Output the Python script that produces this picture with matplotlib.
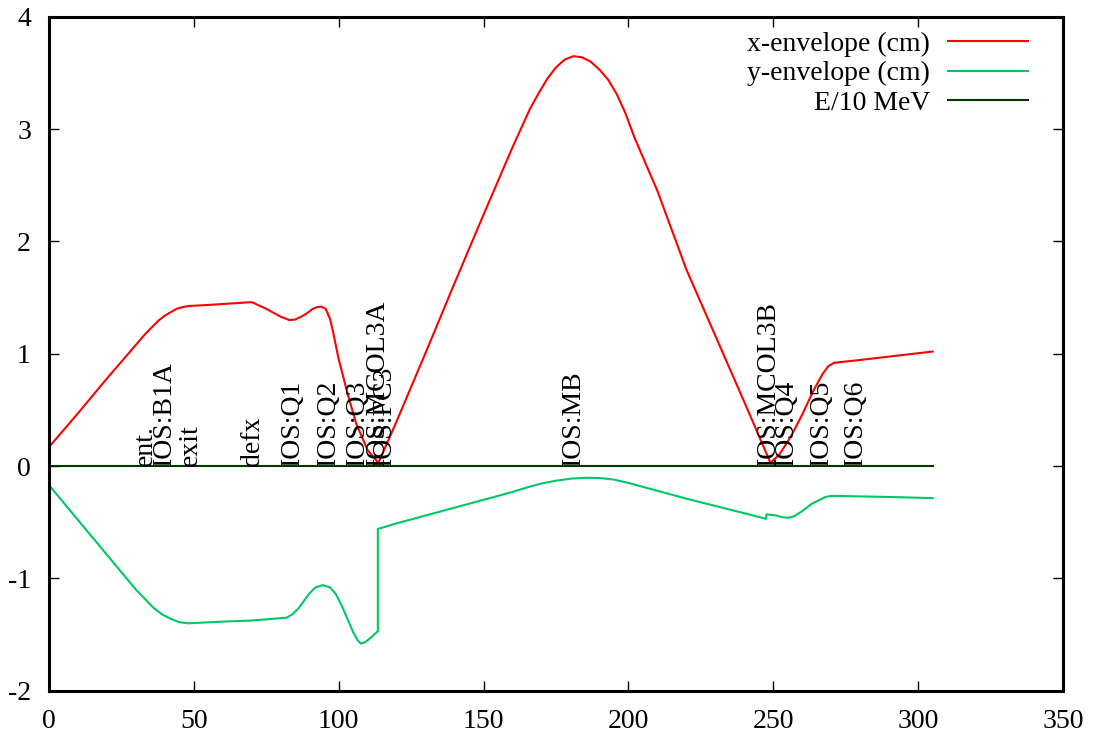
import matplotlib
matplotlib.use('Agg')
import matplotlib.pyplot as plt

plt.rcParams['font.family'] = ['Liberation Serif', 'DejaVu Serif']
plt.rcParams['font.size'] = 20
plt.rcParams['axes.unicode_minus'] = False

# x-envelope (cm)
xs_x = [0, 10, 20, 30, 33, 36, 38, 40, 42, 44, 46, 48, 55, 70, 75, 80, 83, 85, 87, 89, 91, 92.5, 94, 95.5, 97, 98,
        100, 103, 106, 110, 113.7, 120, 130, 140, 150, 160, 163, 166, 169, 172, 175, 178, 181, 184,
        187, 190, 193, 196, 199, 202, 210, 220, 230, 240, 249, 252, 256, 260, 264, 267, 269, 271, 280, 290, 305]
env_x = [0.17, 0.47, 0.78, 1.08, 1.17, 1.25, 1.30, 1.34, 1.37, 1.40, 1.415, 1.425, 1.435, 1.46, 1.40, 1.33, 1.30, 1.305, 1.33, 1.36, 1.40, 1.415, 1.42, 1.40, 1.31, 1.20,
         0.95, 0.65, 0.38, 0.14, 0.03, 0.40, 1.01, 1.63, 2.24, 2.84, 3.01, 3.18, 3.32, 3.45, 3.55, 3.62, 3.65, 3.64,
         3.60, 3.53, 3.44, 3.31, 3.14, 2.93, 2.45, 1.75, 1.16, 0.57, 0.03, 0.10, 0.26, 0.46, 0.68, 0.82, 0.89, 0.92, 0.945, 0.975, 1.02]

# y-envelope (cm)
xs_y = [0, 10, 20, 30, 33, 36, 39, 42, 45, 48, 60, 70, 82, 84, 86, 88, 90, 92, 94.5, 97, 99, 101, 103, 105, 106.5, 107.6, 109, 111,
        113.5, 113.5, 120, 140, 160, 165, 170, 175, 180, 185, 190, 195, 200, 220, 240, 247.5, 247.6, 251,
        253, 255, 257, 260, 263, 266, 268, 270, 280, 290, 305]
env_y = [-0.17, -0.48, -0.79, -1.10, -1.18, -1.26, -1.32, -1.36, -1.39, -1.40, -1.385, -1.375, -1.35, -1.32, -1.27, -1.20, -1.13, -1.08, -1.06, -1.08, -1.14, -1.24, -1.36, -1.48, -1.55, -1.58, -1.57, -1.53,
         -1.47, -0.56, -0.51, -0.37, -0.23, -0.19, -0.155, -0.13, -0.112, -0.104, -0.106, -0.12, -0.15, -0.29, -0.42, -0.47, -0.43, -0.44,
         -0.455, -0.46, -0.45, -0.40, -0.34, -0.30, -0.275, -0.265, -0.27, -0.275, -0.285]

# E/10 MeV
xs_e = [0, 305]
energy = [0, 0]

# element labels
elem_names = ['ent.', 'IOS:B1A', 'exit', 'defx', 'IOS:Q1', 'IOS:Q2', 'IOS:Q3', 'IOS:MCOL3A', 'IOS:FC3',
              'IOS:MB', 'IOS:MCOL3B', 'IOS:Q4', 'IOS:Q5', 'IOS:Q6']
elem_pos = [33.1, 40.0, 48.7, 70.1, 83.9, 96.3, 106.3, 113.4, 115.7,
            180.9, 248.2, 254.6, 266.7, 278.2]

fig = plt.figure(figsize=(10.94, 7.34), dpi=100)
ax = fig.add_axes([0.0448, 0.059, 0.9269, 0.918])

ax.plot(xs_x, env_x, color='#ff0000', lw=1.5, label='x-envelope (cm)')
ax.plot(xs_y, env_y, color='#00c864', lw=1.5, label='y-envelope (cm)')
ax.plot(xs_e, energy, color='#003800', lw=1.5, label='E/10 MeV')

for name, p in zip(elem_names, elem_pos):
    ax.text(p, 0, name, rotation=90, ha='center', va='bottom', fontsize=20)

ax.set_xlim(0, 350)
ax.set_ylim(-2, 4)
ax.set_xticks(range(0, 351, 50))
ax.set_yticks(range(-2, 5))
ax.tick_params(direction='in', length=7, width=1, top=True, right=True)
ax.tick_params(axis='x', pad=13)
ax.tick_params(axis='y', pad=13)
for s in ax.spines.values():
    s.set_linewidth(2.2)

leg = ax.legend(loc='upper right', frameon=False, markerfirst=False, handlelength=2.85,
                handletextpad=0.65, labelspacing=0.15, borderaxespad=0.0,
                bbox_to_anchor=(0.976, 0.995))
for t in leg.get_texts():
    t.set_ha('right')

fig.savefig('out.png', dpi=100)
